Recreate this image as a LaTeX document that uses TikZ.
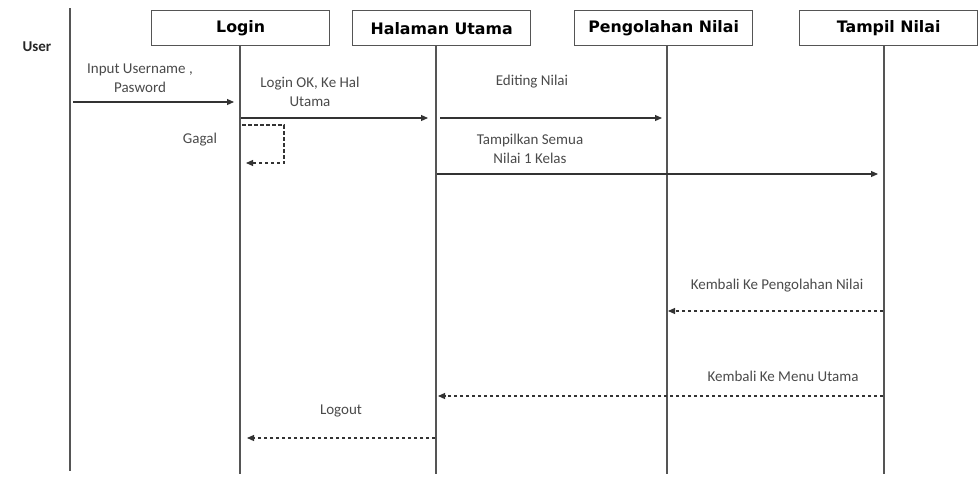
\documentclass[tikz,border=0pt]{standalone}
\usepackage{fontspec}
\setmainfont{Carlito}
\newfontfamily\headfont{DejaVu Sans}
\usetikzlibrary{arrows.meta}
\definecolor{lineclr}{HTML}{555555}
\definecolor{txtclr}{HTML}{4A4A4A}
\begin{document}
\begin{tikzpicture}[x=1pt,y=-1pt,
  header/.style={draw=lineclr,line width=1.3pt,minimum width=178pt,minimum height=35pt,
    inner sep=0pt,font=\headfont\bfseries\fontsize{15.8}{18}\selectfont,anchor=north west},
  lifeline/.style={draw=lineclr,line width=1.4pt},
  msg/.style={draw=black!80,line width=1.1pt,-{Triangle[length=7pt,width=6pt]}},
  reply/.style={msg,dashed,dash pattern=on 3.5pt off 2.5pt},
  lbl/.style={font=\fontsize{15}{19}\selectfont,text=txtclr,align=center,inner sep=0pt}]
\useasboundingbox (0,0) rectangle (980,477);

% participants
\node[font=\bfseries\fontsize{15}{17}\selectfont,text=black!85] (user) at (37,47) {User};
\node[header] (login) at (151,10) {Login};
\node[header] (hal) at (352,10) {Halaman Utama};
\node[header] (olah) at (574,10) {Pengolahan Nilai};
\node[header] (tampil) at (799,10) {Tampil Nilai};

% lifelines
\coordinate (uTop) at (70,8);  \coordinate (uEnd) at (70,471);
\coordinate (lTop) at (240,45); \coordinate (lEnd) at (240,474);
\coordinate (hTop) at (436,45); \coordinate (hEnd) at (436,474);
\coordinate (oTop) at (667,45); \coordinate (oEnd) at (667,474);
\coordinate (tTop) at (884,45); \coordinate (tEnd) at (884,474);
\draw[lifeline] (uTop) -- (uEnd);
\draw[lifeline] (lTop) -- (lEnd);
\draw[lifeline] (hTop) -- (hEnd);
\draw[lifeline] (oTop) -- (oEnd);
\draw[lifeline] (tTop) -- (tEnd);

% message end points
\coordinate (m1a) at (73,102);  \coordinate (m1b) at (234,102);
\coordinate (m2a) at (241,118); \coordinate (m2b) at (428,118);
\coordinate (g1) at (242,125);  \coordinate (g2) at (284,125);
\coordinate (g3) at (284,163);  \coordinate (g4) at (246,163);
\coordinate (m3a) at (440,118); \coordinate (m3b) at (662,118);
\coordinate (m4a) at (437,174); \coordinate (m4b) at (878,174);
\coordinate (r1a) at (883,311); \coordinate (r1b) at (668,311);
\coordinate (r2a) at (883,396); \coordinate (r2b) at (438,396);
\coordinate (r3a) at (435,438); \coordinate (r3b) at (247,438);

% messages
\draw[msg] (m1a) -- (m1b);
\draw[msg] (m2a) -- (m2b);
\draw[reply] (g1) -- (g2) -- (g3) -- (g4);
\draw[msg] (m3a) -- (m3b);
\draw[msg] (m4a) -- (m4b);
\draw[reply] (r1a) -- (r1b);
\draw[reply] (r2a) -- (r2b);
\draw[reply] (r3a) -- (r3b);

% labels
\node[lbl] (t1) at (140,78) {Input Username ,\\Pasword};
\node[lbl] (t2) at (310,92) {Login OK, Ke Hal\\Utama};
\node[lbl] (t3) at (200,140) {Gagal};
\node[lbl] (t4) at (532,82) {Editing Nilai};
\node[lbl] (t5) at (530,149) {Tampilkan Semua\\Nilai 1 Kelas};
\node[lbl] (t6) at (777,286) {Kembali Ke Pengolahan Nilai};
\node[lbl] (t7) at (783,376) {Kembali Ke Menu Utama};
\node[lbl] (t8) at (341,411) {Logout};
\end{tikzpicture}
\end{document}
